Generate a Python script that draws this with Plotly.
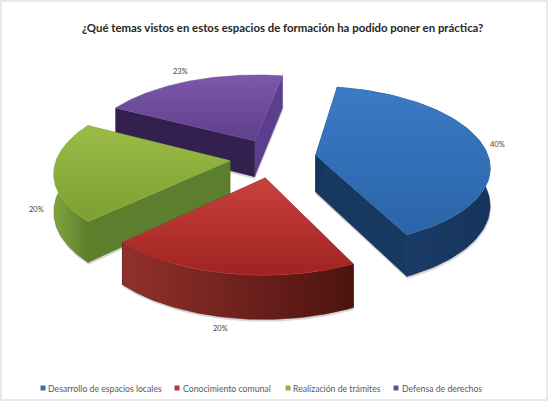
import numpy as np
import plotly.graph_objects as go

# --- data ---
categories = ["Desarrollo de espacios locales", "Conocimiento comunal",
              "Realización de trámites", "Defensa de derechos"]
label_values = [40, 20, 20, 23]      # printed labels
slice_shares = [40, 20, 20, 20]      # share of the circle each wedge occupies
title_text = "¿Qué temas vistos en estos espacios de formación ha podido poner en práctica?"

# --- styling ---
top_colors = [("#2a64a8", "#3b7ac6"), ("#a02321", "#c9413d"), ("#7d9f33", "#9bbc46"), ("#5e3f8b", "#7c58aa")]
rim_colors = [("#1d4170", "#16345c"), ("#93302b", "#4c130f"), ("#7fa53d", "#5c7f2d"), ("#33204f", "#33204f")]
start_face = ["#15345c", "#6b1a16", "#5c7f2d", "#33204f"]
end_face = ["#18395f", "#5a1612", "#5e8230", "#5d3d8e"]
legend_colors = ["#3c6eb0", "#b03a38", "#8fb04f", "#6a4a9a"]
label_xy = [(497, 144), (220, 328), (36, 209), (180, 71)]
legend_swatch_x = [43, 177, 288, 396]
legend_text_x = [46, 181, 291, 400]

# --- projection of the tilted pie ---
CX, CY, S, K, P, H, EXPLODE = 273, 158, 173, 0.455, 0.131, 37, 0.25
START_DEG = 10


def project(wx, wy, drop=0.0):
    w = 1 + P * wy
    return CX + S * wx / w, CY - S * K * wy / w + drop / w


def wedge(a0, a1):
    mid = np.radians((a0 + a1) / 2)
    ax, ay = EXPLODE * np.sin(mid), EXPLODE * np.cos(mid)
    t = np.radians(np.linspace(a0, a1, 80))
    return ax, ay, ax + np.sin(t), ay + np.cos(t)


def poly(fig, x, y, c0, c1=None, kind="horizontal"):
    kw = dict(fillcolor=c0)
    if c1 is not None and c1 != c0:
        kw = dict(fillgradient=dict(type=kind, colorscale=[[0, c0], [1, c1]]))
    fig.add_trace(go.Scatter(x=list(x) + [x[0]], y=list(y) + [y[0]], mode="lines", fill="toself",
                             line=dict(width=0.5, color=c1 or c0), hoverinfo="skip", showlegend=False, **kw))


fig = go.Figure()
total = sum(slice_shares)
bounds = START_DEG + 360 * np.cumsum([0] + slice_shares) / total
for i in [3, 2, 0, 1]:   # back to front
    ax, ay, rx, ry = wedge(bounds[i], bounds[i + 1])
    tx, ty = project(rx, ry)
    bx, by = project(rx, ry, H)
    apx, apy = project(ax, ay)
    apbx, apby = project(ax, ay, H)
    # soft shadow under the solid
    poly(fig, list(bx + 0.5) + [apbx], list(by + 2) + [apby + 2], "rgba(150,150,150,0.35)")
    # radial faces
    poly(fig, [apx, tx[-1], bx[-1], apbx], [apy, ty[-1], by[-1], apby], end_face[i])
    poly(fig, [apx, tx[0], bx[0], apbx], [apy, ty[0], by[0], apby], start_face[i])
    # rim (only where it faces the viewer)
    if i != 3:
        poly(fig, list(tx) + list(bx[::-1]), list(ty) + list(by[::-1]), rim_colors[i][0], rim_colors[i][1])
    # top
    poly(fig, [apx] + list(tx), [apy] + list(ty), top_colors[i][0], top_colors[i][1], "vertical")

fig.add_trace(go.Scatter(x=legend_swatch_x, y=[388] * 4, mode="markers", hoverinfo="skip", showlegend=False,
                         marker=dict(symbol="square", size=5, color=legend_colors)))

ann = [dict(x=282.5, y=27, text=f"<b>{title_text}</b>", showarrow=False,
            font=dict(family="Lato", size=11.4, color="#262626"))]
for (x, y), v in zip(label_xy, label_values):
    ann.append(dict(x=x, y=y, text=f"{v}%", showarrow=False, font=dict(family="Lato", size=7.5, color="#404040")))
for x, c in zip(legend_text_x, categories):
    ann.append(dict(x=x, y=388, text=c, showarrow=False, xanchor="left",
                    font=dict(family="Lato", size=8.7, color="#5a5a5a")))

fig.update_layout(
    width=550, height=401, margin=dict(l=0, r=0, t=0, b=0), autosize=False,
    paper_bgcolor="white", plot_bgcolor="white", showlegend=False, annotations=ann,
    xaxis=dict(range=[0, 550], visible=False, fixedrange=True),
    yaxis=dict(range=[401, 0], visible=False, fixedrange=True),
    shapes=[dict(type="rect", x0=1, y0=1, x1=547, y1=400, line=dict(color="#e2e2e2", width=1.5))],
)
fig.write_html("out.html", post_script="document.body.style.margin='0';", config=dict(displayModeBar=False))
